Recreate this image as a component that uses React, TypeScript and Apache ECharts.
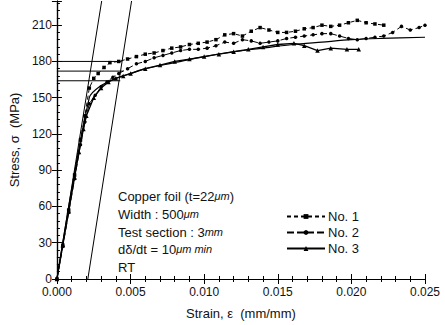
import React, { useEffect, useRef } from "react";
import * as echarts from "echarts";

const FONT = "'Liberation Sans', Arial, sans-serif";

const strain1 = [0, 0.0004, 0.0008, 0.0012, 0.0016, 0.0019, 0.0022, 0.0025, 0.0028, 0.0032, 0.0036, 0.0042, 0.0048, 0.0054, 0.006, 0.0066, 0.0072, 0.0078, 0.0084, 0.009, 0.0096, 0.0102, 0.0108, 0.0114, 0.012, 0.0126, 0.0132, 0.0138, 0.0144, 0.015, 0.0156, 0.0162, 0.0168, 0.0174, 0.018, 0.0186, 0.0192, 0.0198, 0.0204, 0.021, 0.0216, 0.0222];
const stress1 = [0, 28, 57, 86, 115, 135, 158, 166, 170, 175, 179, 180, 182, 184, 186, 187, 189, 191, 192, 194, 195, 196, 198, 202, 203, 201, 205, 208, 206, 204, 204, 205, 207, 208, 210, 209, 210, 212, 214, 212, 211, 210];

const strain2 = [0, 0.0004, 0.0008, 0.0012, 0.0016, 0.0019, 0.0022, 0.0026, 0.003, 0.0034, 0.0038, 0.0042, 0.0048, 0.0054, 0.006, 0.0066, 0.0072, 0.0078, 0.0084, 0.009, 0.0096, 0.0102, 0.0108, 0.0114, 0.012, 0.0126, 0.0132, 0.0138, 0.0144, 0.015, 0.0156, 0.0162, 0.0168, 0.0174, 0.018, 0.0186, 0.0192, 0.0198, 0.0204, 0.021, 0.0216, 0.0222, 0.0228, 0.0234, 0.024, 0.0246, 0.025];
const stress2 = [0, 27, 55, 83, 111, 130, 145, 152, 159, 163, 167, 170, 174, 178, 180, 183, 185, 187, 189, 190, 190, 191, 193, 196, 195, 198, 197, 195, 196, 197, 199, 200, 201, 202, 203, 203, 201, 199, 198, 199, 200, 201, 204, 209, 206, 208, 210];

const strain3 = [0, 0.0004, 0.0008, 0.0012, 0.0015, 0.0018, 0.002, 0.0025, 0.003, 0.0035, 0.004, 0.0045, 0.005, 0.006, 0.007, 0.008, 0.009, 0.01, 0.011, 0.012, 0.013, 0.014, 0.015, 0.0161, 0.0168, 0.0177, 0.0186, 0.0197, 0.0205];
const stress3 = [0, 28, 56, 84, 105, 124, 135, 150, 158, 163, 166, 168, 170, 174, 177, 180, 182, 184, 186, 188, 190, 192, 194, 195, 193, 189, 191, 190, 190];

const fitStrain = [0, 0.0022, 0.003, 0.004, 0.005, 0.006, 0.008, 0.01, 0.012, 0.014, 0.016, 0.018, 0.02, 0.022, 0.025];
const fitStress = [0, 150, 160, 166, 170, 174, 179, 184, 188, 191, 194, 196, 198, 199, 200];

const offsetLineA = [[0, 0], [0.00304, 230]];
const offsetLineB = [[0.0021, 0], [0.00507, 230]];
const yieldStress = [180, 172, 164];
const yieldStrainEnd = [0.0044, 0.0045, 0.0043];

const xTicks = { min: 0, max: 0.025, interval: 0.005 };
const yTicks = { min: 0, max: 230, interval: 30 };

const zip = (xs: number[], ys: number[]) => xs.map((x, i) => [x, ys[i]]);

export default function App() {
  const ref = useRef<HTMLDivElement>(null);
  useEffect(() => {
    if (!ref.current) return;
    const chart = echarts.init(ref.current, null, { renderer: "svg" });
    const black = "#000";
    const axisCommon = {
      axisLine: { show: true, lineStyle: { color: black, width: 1.2 } },
      splitLine: { show: false },
    };
    const guideSeries: any[] = [
      { data: offsetLineA },
      { data: offsetLineB },
      ...yieldStress.map((s, i) => ({ data: [[0, s], [yieldStrainEnd[i], s]] })),
    ].map((g) => ({
      type: "line",
      data: g.data,
      symbol: "none",
      silent: true,
      lineStyle: { color: black, width: 1 },
      legendHoverLink: false,
    }));
    chart.setOption({
      animation: false,
      backgroundColor: "#fff",
      grid: { left: 55, right: 20, top: 1, bottom: 46 },
      xAxis: [
        {
          type: "value",
          ...xTicks,
          position: "bottom",
          ...axisCommon,
          name: "Strain, ε  (mm/mm)",
          nameLocation: "middle",
          nameGap: 28,
          nameTextStyle: { fontFamily: FONT, fontSize: 13, color: "#111" },
          axisTick: { inside: true, length: 5, lineStyle: { color: black } },
          minorTick: { show: true, splitNumber: 5, length: 3, lineStyle: { color: black } },
          axisLabel: {
            fontFamily: FONT,
            fontSize: 12,
            color: "#111",
            margin: 7,
            formatter: (v: number) => v.toFixed(3),
          },
        },
        {
          type: "value",
          ...xTicks,
          position: "top",
          ...axisCommon,
          axisTick: { inside: true, length: 5, lineStyle: { color: black } },
          minorTick: { show: true, splitNumber: 5, length: 3, lineStyle: { color: black } },
          axisLabel: { show: false },
        },
      ],
      yAxis: [
        {
          type: "value",
          ...yTicks,
          position: "left",
          ...axisCommon,
          name: "Stress, σ  (MPa)",
          nameLocation: "middle",
          nameGap: 34,
          nameTextStyle: { fontFamily: FONT, fontSize: 13, color: "#111" },
          axisTick: { inside: true, length: 5, lineStyle: { color: black } },
          minorTick: { show: true, splitNumber: 5, length: 3, lineStyle: { color: black } },
          axisLabel: {
            fontFamily: FONT,
            fontSize: 12,
            color: "#111",
            margin: 5,
            showMaxLabel: false,
            formatter: (v: number) => (v % 30 === 0 ? String(v) : ""),
          },
        },
        {
          type: "value",
          ...yTicks,
          position: "right",
          ...axisCommon,
          axisTick: { inside: true, length: 5, lineStyle: { color: black } },
          axisLabel: { show: false },
        },
      ],
      legend: {
        data: ["No. 1", "No. 2", "No. 3"],
        orient: "vertical",
        left: 281,
        top: 205,
        itemWidth: 38,
        itemHeight: 6,
        itemGap: 3,
        textStyle: { fontFamily: FONT, fontSize: 13, color: "#111", padding: [0, 0, 0, -2] },
      },
      graphic: [
        { text: "{a|Copper foil (t=22}{u|μm}{a|)}", y: 196 },
        { text: "{a|Width : 500}{u|μm}", y: 214 },
        { text: "{a|Test section : 3}{u|mm}", y: 232 },
        { text: "{a|dδ/dt = 10}{u|μm min}", y: 249 },
        { text: "{a|RT}", y: 267 },
      ].map((t) => ({
        type: "text",
        x: 118,
        y: t.y,
        silent: true,
        style: {
          text: t.text,
          verticalAlign: "middle",
          fill: "#111",
          rich: {
            a: { fontFamily: FONT, fontSize: 13, color: "#111" },
            u: { fontFamily: FONT, fontSize: 11, fontStyle: "italic", color: "#111" },
          },
        },
      })),
      series: [
        ...guideSeries,
        {
          name: "fit",
          type: "line",
          data: zip(fitStrain, fitStress),
          symbol: "none",
          smooth: 0.3,
          lineStyle: { color: black, width: 1.2 },
        },
        {
          name: "No. 1",
          type: "line",
          data: zip(strain1, stress1),
          symbol: "rect",
          symbolSize: 3.5,
          itemStyle: { color: black },
          lineStyle: { color: black, width: 1, type: [4, 3] },
        },
        {
          name: "No. 2",
          type: "line",
          data: zip(strain2, stress2),
          symbol: "circle",
          symbolSize: 3.5,
          itemStyle: { color: black },
          lineStyle: { color: black, width: 1, type: [7, 3] },
        },
        {
          name: "No. 3",
          type: "line",
          data: zip(strain3, stress3),
          symbol: "triangle",
          symbolSize: 4.5,
          itemStyle: { color: black },
          lineStyle: { color: black, width: 1.3 },
        },
      ],
    });
    return () => chart.dispose();
  }, []);
  return (
    <div
      ref={ref}
      style={{ position: "fixed", left: 0, top: 0, width: 445, height: 325, background: "#fff" }}
    />
  );
}
